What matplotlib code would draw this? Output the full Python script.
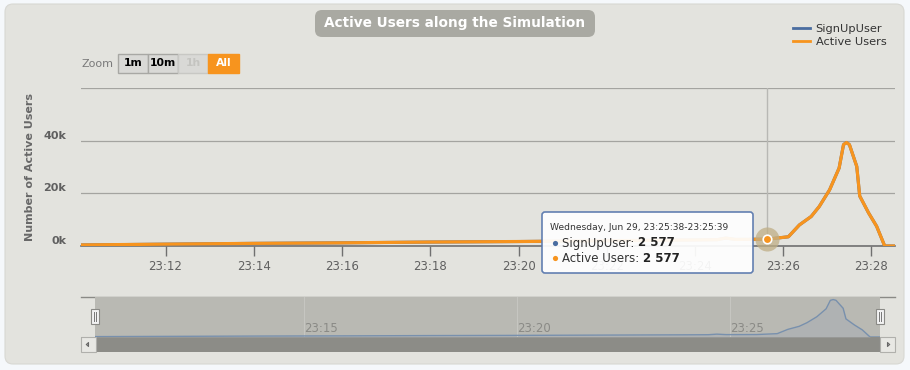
import numpy as np
import pandas as pd
import matplotlib
matplotlib.use("Agg")
import matplotlib.pyplot as plt
import matplotlib.dates as mdates
from matplotlib.patches import FancyBboxPatch, Rectangle
from matplotlib.lines import Line2D

# ---- data ----
times = ["23:10:05", "23:12:00", "23:14:00", "23:16:00", "23:18:00", "23:20:00",
         "23:22:00", "23:24:00", "23:24:30", "23:24:42", "23:24:55", "23:25:38",
         "23:26:07", "23:26:22", "23:26:38", "23:26:49", "23:27:03", "23:27:16",
         "23:27:22", "23:27:26", "23:27:30", "23:27:40", "23:27:44", "23:27:56",
         "23:28:07", "23:28:18", "23:28:32"]
active_users = [400, 700, 1000, 1200, 1500, 1700,
                2000, 2300, 2400, 3000, 2500, 2577,
                3500, 8000, 11200, 15000, 21300, 29600,
                38500, 39300, 38500, 30200, 19000, 12600,
                7500, 0, 0]
signup_users = list(active_users)
y_ticks = [0, 20000, 40000, 60000]
y_tick_labels = ["0k", "20k", "40k", ""]
hover_time = "23:25:38"
hover_text = "Wednesday, Jun 29, 23:25:38-23:25:39"
zoom_buttons = ["1m", "10m", "1h", "All"]

ORANGE = "#f7941e"
BLUE = "#4a6da0"
PANEL = "#e3e3de"
GRID = "#a4a4a0"
TEXT = "#606060"

t = pd.to_datetime(["2016-06-29 " + s for s in times])
hover_idx = times.index(hover_time)

W, H = 910, 370
fig = plt.figure(figsize=(W / 100, H / 100), dpi=100, facecolor="#f5f8fb")


def px_axes(x0, y0, x1, y1, **kw):
    """axes from pixel box (top-left origin)"""
    return fig.add_axes([x0 / W, 1 - y1 / H, (x1 - x0) / W, (y1 - y0) / H], **kw)


# background chrome
bg = px_axes(0, 0, W, H)
bg.set_xlim(0, W)
bg.set_ylim(H, 0)
bg.axis("off")
bg.set_zorder(0)
bg.add_patch(FancyBboxPatch((5, 4), 899, 360, boxstyle="round,pad=0,rounding_size=8",
                            fc=PANEL, ec="#d8d8d3", lw=0.8))
bg.add_patch(FancyBboxPatch((315, 10), 280, 27, boxstyle="round,pad=0,rounding_size=7",
                            fc="#a9a9a2", ec="none"))
bg.text(455, 23.5, "Active Users along the Simulation", ha="center", va="center",
        color="white", fontsize=9.8, fontweight="bold")

# zoom buttons
bg.text(82, 64, "Zoom", ha="left", va="center", color="#7a7a7a", fontsize=8)
bx = 118
for lab in zoom_buttons:
    w = 30 if lab != "All" else 31
    if lab == "All":
        fc, tc, ec = ORANGE, "white", ORANGE
    elif lab == "1h":
        fc, tc, ec = "#d9d9d6", "#c4c4c0", "#c8c8c4"
    else:
        fc, tc, ec = "#d9d9d6", "black", "#a8a8a4"
    bg.add_patch(Rectangle((bx, 54), w, 19, fc=fc, ec=ec, lw=1))
    bg.text(bx + w / 2, 63.5, lab, ha="center", va="center", color=tc,
            fontsize=7.8, fontweight="bold")
    bx += w

# y axis title
bg.text(30, 167, "Number of Active Users", rotation=90, ha="center", va="center",
        color="#686868", fontsize=8, fontweight="bold")

# scrollbar
bg.add_patch(Rectangle((81, 337), 814, 15, fc="#8c8c87", ec="none"))
for x0 in (81, 880):
    bg.add_patch(Rectangle((x0, 337), 15, 15, fc="#e8e8e4", ec="#b0b0ac", lw=0.8))
bg.plot([86.5, 88.5, 88.5, 86.5], [344.5, 342.5, 346.5, 344.5], color="#666", lw=0.8)
bg.plot([889.5, 887.5, 887.5, 889.5], [344.5, 342.5, 346.5, 344.5], color="#666", lw=0.8)
bg.plot([81, 895], [297, 297], color="#8a8a86", lw=1)

# ---- main chart ----
ax = px_axes(81, 88, 895, 246)
ax.set_zorder(2)
ax.patch.set_alpha(0)
ax.plot(t, signup_users, color=BLUE, lw=2.2, zorder=3)
ax.plot(t, active_users, color=ORANGE, lw=2.3, zorder=4, solid_joinstyle="round")
ax.set_xlim(t[0], t[-1])
ax.set_ylim(0, 60000)
ax.set_yticks(y_ticks)
ax.set_yticklabels([])
ax.tick_params(axis="y", length=0)
ax.grid(axis="y", color=GRID, lw=0.9)
for yv, lab in zip(y_ticks, y_tick_labels):
    ax.text(-0.018, yv, lab, transform=ax.get_yaxis_transform(), ha="right",
            va="bottom", color=TEXT, fontsize=8, fontweight="bold")
ax.xaxis.set_major_locator(mdates.MinuteLocator(byminute=range(0, 60, 2)))
ax.xaxis.set_major_formatter(mdates.DateFormatter("%H:%M"))
ax.tick_params(axis="x", length=7, width=1, color="#707070", labelcolor=TEXT,
               labelsize=8.5, pad=3)
for s in ("top", "right", "left"):
    ax.spines[s].set_visible(False)
ax.spines["bottom"].set_color("#707070")
ax.spines["bottom"].set_linewidth(1.2)

# crosshair + hover marker
ax.axvline(t[hover_idx], color="#b8b8b4", lw=1, zorder=2)
ax.scatter([t[hover_idx]], [active_users[hover_idx]], s=300, color="#bfae86",
           alpha=0.75, zorder=5, clip_on=False, lw=0)
ax.scatter([t[hover_idx]], [active_users[hover_idx]], s=38, color=ORANGE,
           edgecolor="white", lw=1.2, zorder=6, clip_on=False)

leg = ax.legend(handles=[Line2D([], [], color=BLUE, lw=2),
                         Line2D([], [], color=ORANGE, lw=2)],
                labels=["SignUpUser", "Active Users"],
                loc="lower right", bbox_to_anchor=(0.995, 1.23), frameon=False,
                fontsize=8.2, handlelength=1.5, handletextpad=0.5,
                labelspacing=0.3, borderaxespad=0)
for txt in leg.get_texts():
    txt.set_color("#333333")

# ---- navigator ----
nav = px_axes(95, 297, 880, 337)
nav.set_zorder(1)
nav.set_facecolor("#b9b9b3")
nav.fill_between(t, active_users, color="#acb0b3", alpha=0.7, lw=0)
nav.plot(t, active_users, color="#7890ad", lw=1)
nav.set_xlim(t[0], t[-1])
nav.set_ylim(0, 42000)
nav.set_yticks([])
nav.xaxis.set_major_locator(mdates.MinuteLocator(byminute=range(0, 60, 5)))
nav.xaxis.set_major_formatter(mdates.DateFormatter("%H:%M"))
nav.grid(axis="x", color="#c6c6c1", lw=0.8)
nav.tick_params(axis="x", length=0, direction="in", pad=-11, labelcolor="#8a8a86",
                labelsize=8.5)
for lab in nav.get_xticklabels():
    lab.set_horizontalalignment("left")
for s in nav.spines.values():
    s.set_visible(False)

# ---- foreground chrome: handles + tooltip ----
fg = px_axes(0, 0, W, H)
fg.set_xlim(0, W)
fg.set_ylim(H, 0)
fg.axis("off")
fg.set_zorder(10)
for hx in (95, 880):
    fg.add_patch(Rectangle((hx - 4, 309), 8, 15, fc="#f2f2f2", ec="#8a8a86", lw=0.8))
    fg.plot([hx - 1, hx - 1], [312, 321], color="#777", lw=0.7)
    fg.plot([hx + 1, hx + 1], [312, 321], color="#777", lw=0.7)

fg.add_patch(FancyBboxPatch((542, 212), 211, 61, boxstyle="round,pad=0,rounding_size=3",
                            fc="white", alpha=0.93, ec="#5877ad", lw=1.2))
fg.text(550, 227, hover_text, ha="left", va="center", color="#333333", fontsize=6.6)
val = f"{active_users[hover_idx]:,}".replace(",", " ")
for yy, name, col in ((243, "SignUpUser", BLUE), (258, "Active Users", ORANGE)):
    fg.scatter([555], [yy], s=14, color=col, lw=0)
    tx = fg.text(562, yy, name + ": ", ha="left", va="center", color="#333333",
                 fontsize=8.5)
    fg.annotate(val, xycoords=tx, xy=(1, 0.5), va="center", ha="left",
                color="#222222", fontsize=8.5, fontweight="bold")

fig.savefig("out.png", dpi=100, facecolor=fig.get_facecolor())
